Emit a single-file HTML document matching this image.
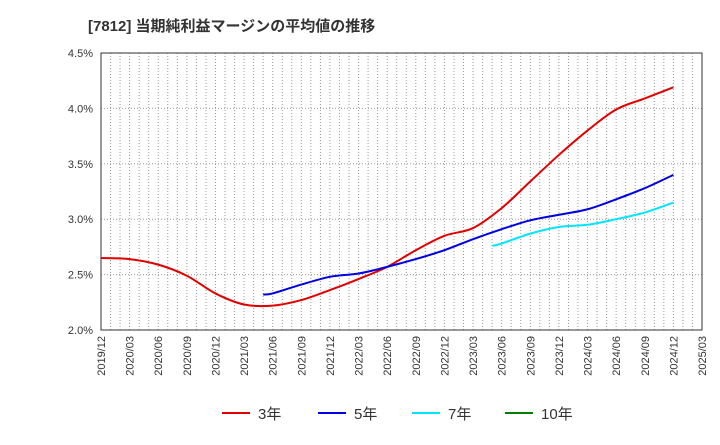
<!DOCTYPE html>
<html><head><meta charset="utf-8"><style>
body{margin:0;background:#fff;}
svg text{font-family:"Liberation Sans","Noto Sans CJK JP",sans-serif;}
</style></head><body>
<svg id="c" width="720" height="440" xmlns="http://www.w3.org/2000/svg">
<text x="88" y="31" font-size="15" font-weight="bold" fill="#333">[7812]  当期純利益マージンの平均値の推移</text>
</svg>
<script>
const yTicks=[2.0,2.5,3.0,3.5,4.0,4.5];
const xTickLabels=["2019/12","2020/03","2020/06","2020/09","2020/12","2021/03","2021/06","2021/09","2021/12","2022/03","2022/06","2022/09","2022/12","2023/03","2023/06","2023/09","2023/12","2024/03","2024/06","2024/09","2024/12","2025/03"];
const dates3=["2019/12","2020/03","2020/06","2020/09","2020/12","2021/03","2021/06","2021/09","2021/12","2022/03","2022/06","2022/09","2022/12","2023/03","2023/06","2023/09","2023/12","2024/03","2024/06","2024/09","2024/12"];
const vals3=[2.65,2.64,2.59,2.49,2.33,2.23,2.22,2.27,2.36,2.46,2.57,2.72,2.85,2.92,3.10,3.34,3.58,3.80,3.99,4.09,4.19];
const dates5=["2021/05","2021/06","2021/09","2021/12","2022/03","2022/06","2022/09","2022/12","2023/03","2023/06","2023/09","2023/12","2024/03","2024/06","2024/09","2024/12"];
const vals5=[2.32,2.33,2.41,2.48,2.51,2.57,2.64,2.72,2.82,2.91,2.99,3.04,3.09,3.18,3.28,3.40];
const dates7=["2023/05","2023/06","2023/09","2023/12","2024/03","2024/06","2024/09","2024/12"];
const vals7=[2.76,2.78,2.87,2.93,2.95,3.00,3.06,3.15];
const dates10=[];const vals10=[];
const L=101,R=702,T=53,B=330;
function mi(d){const p=d.split('/');return (+p[0]-2019)*12+(+p[1])-12;}
const xS=d=>L+(R-L)*mi(d)/63;
const yS=v=>B-(B-T)*(v-2.0)/2.5;
const svg=document.getElementById('c');const NS='http://www.w3.org/2000/svg';
function mk(t,a,p){const e=document.createElementNS(NS,t);for(const k in a)e.setAttribute(k,a[k]);(p||svg).appendChild(e);return e;}
for(let m=1;m<63;m++){const x=L+(R-L)*m/63;
const g=mk('line',{x1:x,x2:x,y1:T,y2:B,stroke:'#999','stroke-dasharray':'1,2','stroke-width':1});

}
yTicks.forEach(v=>{const y=yS(v);
if(v>2&&v<4.5){const g=mk('line',{x1:L,x2:R,y1:y,y2:y,stroke:'#999','stroke-dasharray':'1,2'});

}
const t=mk('text',{x:L-8,y:y+4,'text-anchor':'end','font-size':11,fill:'#333'});t.textContent=v.toFixed(1)+'%';

});
xTickLabels.forEach(d=>{const x=xS(d);
const t=mk('text',{x:0,y:0,transform:`translate(${x+4},${B+6}) rotate(-90)`,'text-anchor':'end','font-size':11,fill:'#333'});t.textContent=d;

});
const fr=mk('rect',{x:L,y:T,width:R-L,height:B-T,fill:'none',stroke:'#333','stroke-width':1});


function path(ds,vs){const p=ds.map((d,i)=>[xS(d),yS(vs[i])]);if(!p.length)return '';let s=`M${p[0][0]},${p[0][1]}`;
for(let i=0;i<p.length-1;i++){const p0=p[i-1]||p[i],p1=p[i],p2=p[i+1],p3=p[i+2]||p2;
s+=` C${p1[0]+(p2[0]-p0[0])/6},${p1[1]+(p2[1]-p0[1])/6} ${p2[0]-(p3[0]-p1[0])/6},${p2[1]-(p3[1]-p1[1])/6} ${p2[0]},${p2[1]}`;}return s;}
const series=[[dates3,vals3,'#e00000','line-3yr'],[dates5,vals5,'#0000e0','line-5yr'],[dates7,vals7,'#00e5ff','line-7yr'],[dates10,vals10,'#008000','line-10yr']];
series.forEach(s=>{if(!s[0].length)return;const e=mk('path',{d:path(s[0],s[1]),fill:'none',stroke:s[2],'stroke-width':2});

});
const leg=[[222,'3年','#e00000'],[318,'5年','#0000e0'],[412,'7年','#00e5ff'],[505,'10年','#008000']];
leg.forEach(l=>{const g=mk('g',{});


mk('line',{x1:l[0],x2:l[0]+28,y1:413,y2:413,stroke:l[2],'stroke-width':2},g);
const t=mk('text',{x:l[0]+36,y:419,'font-size':15,fill:'#333'},g);t.textContent=l[1];});
</script>
</body></html>
